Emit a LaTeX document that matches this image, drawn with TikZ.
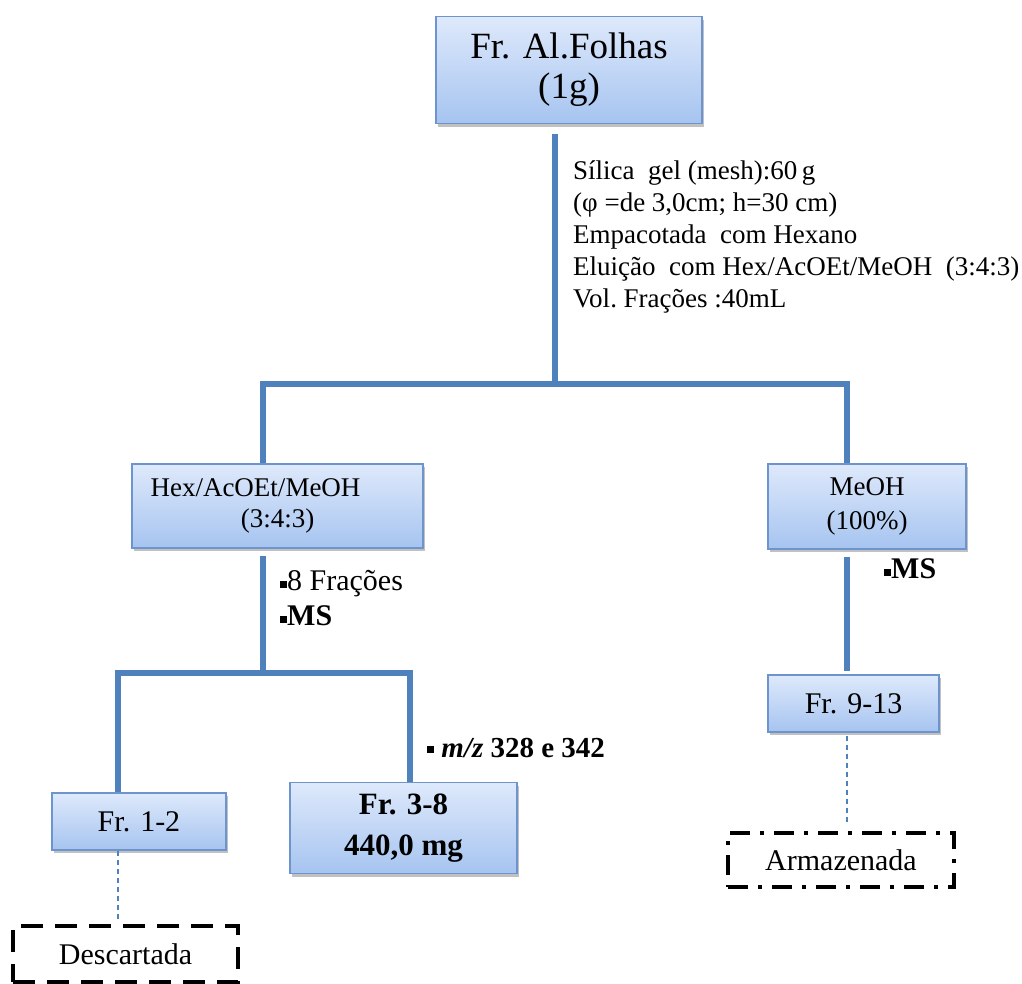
\documentclass[tikz,border=0pt]{standalone}
\usepackage{fontspec}
\setmainfont{Liberation Serif}
\usetikzlibrary{shadows,calc}
\definecolor{linec}{RGB}{79,129,189}
\definecolor{bordc}{RGB}{110,148,205}
\definecolor{boxtop}{RGB}{222,233,251}
\definecolor{boxbot}{RGB}{166,196,240}
\newcommand{\sqb}{\rule[2pt]{7pt}{7pt}}
\tikzset{
  fbox/.style={draw=bordc, line width=1.3pt, top color=boxtop, bottom color=boxbot,
    drop shadow={shadow xshift=2pt, shadow yshift=-3pt, opacity=0.35, fill=black!70},
    align=center, inner sep=0pt},
  conn/.style={draw=linec, line width=6.5pt},
  dotc/.style={draw=linec, line width=1.6pt, dash pattern=on 5pt off 4pt},
  endbox/.style={draw=black, line width=4.5pt, align=center, inner sep=0pt,
    minimum width=225pt, minimum height=54pt, font=\fontsize{30}{34}\selectfont},
  lbl/.style={anchor=base west, inner sep=0pt, font=\fontsize{30}{34}\selectfont},
}
\begin{document}
\begin{tikzpicture}[x=1pt,y=-1pt]
\useasboundingbox (0,0) rectangle (1022,983);

% boxes
\node[fbox, minimum width=266pt, minimum height=107pt, font=\fontsize{37}{40}\selectfont]
  (top) at (569,70) {Fr. Al.Folhas\\(1g)};
\node[fbox, minimum width=291pt, minimum height=84pt, font=\fontsize{27}{31}\selectfont]
  (hex) at (277.5,506) {Hex/AcOEt/MeOH\hspace*{44pt}\\(3:4:3)};
\node[fbox, minimum width=198pt, minimum height=85pt, font=\fontsize{27}{34}\selectfont]
  (meoh) at (867,506.5) {MeOH\\(100\%)};
\node[fbox, minimum width=171pt, minimum height=57pt, font=\fontsize{30}{34}\selectfont]
  (fr913) at (853.5,703.5) {Fr. 9-13};
\node[fbox, minimum width=174pt, minimum height=57pt, font=\fontsize{30}{34}\selectfont]
  (fr12) at (139,821.5) {Fr. 1-2};
\node[fbox, minimum width=227pt, minimum height=91pt, font=\fontsize{31}{41}\selectfont\bfseries]
  (fr38) at (403.5,828) {Fr. 3-8\\440,0 mg};

\node[endbox, dash pattern=on 22pt off 12pt, minimum height=56pt] (desc) at (125.5,954) {Descartada};
\node[endbox, dash pattern=on 20pt off 10pt on 4pt off 10pt, minimum width=226pt] (arm) at (841,860) {Armazenada};

% text block
\node[anchor=north west, inner sep=0pt, align=left, font=\fontsize{27}{32}\selectfont]
  (cond) at (573,161) {Sílica\ \ gel (mesh):60\,g\\
  (φ =de 3,0cm;\ h=30 cm)\\
  Empacotada\ \ com Hexano\\
  Eluição\ \ com Hex/AcOEt/MeOH\ \ (3:4:3)\\
  Vol.\ Frações :40mL};

% labels
\node[lbl] (l8) at (280,590) {\sqb 8 Frações};
\node[lbl] (lms1) at (280,625) {\sqb\textbf{MS}};
\node[lbl] (lms2) at (884,578) {\sqb\textbf{MS}};
\node[lbl, font=\fontsize{29}{34}\selectfont] (lmz) at (427,757) {\rule[4pt]{7pt}{7pt}\ \textbf{\textit{m/z}} \textbf{328 e 342}};

% junction coordinates
\coordinate (j1) at (555,384);
\coordinate (bl) at (263,384);
\coordinate (br) at (847,384);
\coordinate (j2) at (263,673);
\coordinate (cl) at (118,673);
\coordinate (cr) at (410,673);

% connectors
\draw[conn] ($(j1 |- top.south)+(0,10)$) -- (j1);
\draw[conn] (hex.north -| bl) -- (bl) -- (br) -- (br |- meoh.north);
\draw[conn] ($(j2 |- hex.south)+(0,7)$) -- (j2);
\draw[conn] (fr12.north -| cl) -- (cl) -- (cr) -- (cr |- fr38.north);
\draw[conn] ($(br |- meoh.south)+(0,7)$) -- ($(br |- fr913.north)+(0,-3)$);
\draw[dotc] (fr12.south -| cl) -- ($(desc.north -| cl)+(0,-2)$);
\draw[dotc] ($(fr913.south -| br)+(0,3)$) -- ($(arm.north -| br)+(0,-7)$);
\end{tikzpicture}
\end{document}
